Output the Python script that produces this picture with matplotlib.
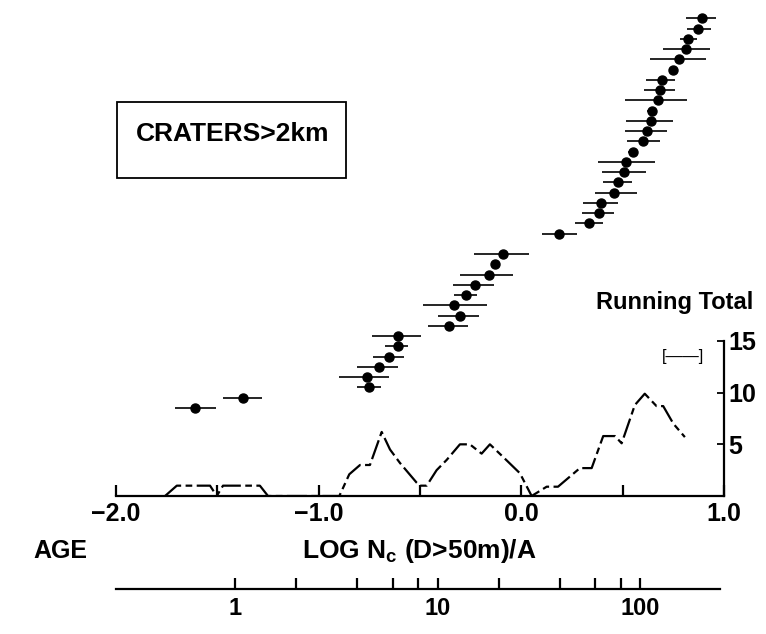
import numpy as np
import matplotlib
matplotlib.use("Agg")
import matplotlib.pyplot as plt
from matplotlib.patches import Rectangle

plt.rcParams['font.family'] = ['Liberation Sans', 'DejaVu Sans']

# ---- data: crater counts (rank order, bottom to top) ----
rank = [0, 1, 2, 3, 4, 5, 6, 7, 8, 9, 10, 11, 12, 13, 14, 15,
        17, 18, 19, 20, 21, 22, 23, 24, 25, 26, 27, 28, 29, 30,
        31, 32, 33, 34, 35, 36, 37, 38]
log_nc = [-1.609, -1.372, -0.750, -0.763, -0.703, -0.652, -0.610, -0.607,
          -0.357, -0.303, -0.330, -0.273, -0.230, -0.160, -0.130, -0.092,
          0.187, 0.335, 0.384, 0.394, 0.457, 0.475, 0.505, 0.516,
          0.549, 0.601, 0.621, 0.639, 0.643, 0.675, 0.685, 0.694,
          0.746, 0.779, 0.814, 0.822, 0.874, 0.892]
err_lo = [-1.709, -1.474, -0.810, -0.898, -0.810, -0.731, -0.673, -0.739,
          -0.459, -0.410, -0.486, -0.333, -0.336, -0.303, -0.140, -0.234,
          0.100, 0.264, 0.297, 0.305, 0.363, 0.404, 0.396, 0.379,
          0.527, 0.523, 0.511, 0.516, 0.620, 0.511, 0.605, 0.615,
          0.730, 0.634, 0.700, 0.782, 0.815, 0.812]
err_hi = [-1.507, -1.281, -0.694, -0.652, -0.607, -0.579, -0.558, -0.497,
          -0.262, -0.208, -0.170, -0.217, -0.135, -0.043, -0.120, 0.039,
          0.276, 0.404, 0.457, 0.478, 0.569, 0.544, 0.615, 0.659,
          0.569, 0.684, 0.720, 0.749, 0.660, 0.818, 0.758, 0.758,
          0.760, 0.909, 0.930, 0.865, 0.935, 0.959]

# ---- data: running total curve ----
rt_x = [-1.758, -1.700, -1.536, -1.503, -1.472, -1.290, -1.250,
        -0.898, -0.849, -0.796, -0.747, -0.689, -0.648, -0.599, -0.517,
        -0.500, -0.467, -0.418, -0.368, -0.303, -0.254, -0.196, -0.155,
        -0.091, -0.007, 0.051, 0.125, 0.181, 0.289, 0.347, 0.404,
        0.462, 0.495, 0.560, 0.609, 0.667, 0.700, 0.750, 0.807]
rt_y = [0, 1.0, 1.0, 0, 1.0, 1.0, 0,
        0, 2.1, 3.0, 3.0, 6.2, 4.5, 3.2, 1.3,
        1.0, 1.0, 2.5, 3.5, 5.0, 5.0, 4.1, 5.0,
        3.8, 2.2, 0, 0.9, 0.9, 2.7, 2.7, 5.8,
        5.8, 5.1, 8.8, 9.9, 8.7, 8.7, 7.0, 5.7]

main_ticks = [-2.0, -1.5, -1.0, -0.5, 0.0, 0.5, 1.0]
main_labels = ['\u22122.0', '', '\u22121.0', '', '0.0', '', '1.0']
rt_ticks = [5, 10, 15]
age_ticks = [1, 2, 4, 6, 8, 10, 20, 40, 60, 80, 100]
age_labels = ['1', '', '', '', '', '10', '', '', '', '', '100']

W, H = 766, 634
fig = plt.figure(figsize=(W / 100, H / 100), dpi=100)
FW = 'bold'

x0, x1 = 116, 724      # pixel x of -2.0 and 1.0
ybase = 496            # pixel y of main axis line
ax = fig.add_axes([x0 / W, (H - ybase) / H, (x1 - x0) / W, ybase / H])
ax.set_xlim(-2, 1)
ax.set_ylim(-8.6, 39.8)
for s in ['top', 'left', 'right']:
    ax.spines[s].set_visible(False)
ax.spines['bottom'].set_bounds(-2, 1)
ax.spines['bottom'].set_linewidth(1.6)
ax.set_yticks([])
ax.set_xticks(main_ticks)
ax.set_xticklabels(main_labels, fontsize=18, fontweight=FW)
ax.tick_params(axis='x', direction='in', length=8, width=1.6, pad=4)

ax.errorbar(log_nc, rank, xerr=[np.array(log_nc) - np.array(err_lo),
                                np.array(err_hi) - np.array(log_nc)],
            fmt='o', color='black', ms=6.5, elinewidth=1.2, capsize=0)

ax2 = ax.twinx()
ax2.set_ylim(0, 48.0)
for s in ['top', 'left', 'bottom']:
    ax2.spines[s].set_visible(False)
ax2.spines['right'].set_bounds(0, 15)
ax2.spines['right'].set_linewidth(1.6)
ax2.set_yticks(rt_ticks)
ax2.set_yticklabels([str(t) for t in rt_ticks], fontsize=18, fontweight=FW)
ax2.tick_params(axis='y', direction='in', length=5, width=1.3, pad=3)
ax2.plot(rt_x, rt_y, color='black', lw=1.6, dashes=(9, 2, 3, 2))
ax2.text((753 - x0) / (x1 - x0), 1 - 302 / ybase,
         'Running Total', transform=ax2.transAxes,
         ha='right', va='center', fontsize=17, fontweight=FW)
ax2.text((683 - x0) / (x1 - x0), 1 - 356 / ybase, '[\u2014\u2014]',
         transform=ax2.transAxes, ha='center', va='center', fontsize=12)

# label box
ax.add_patch(Rectangle((117 / W, 1 - 178 / H), 229 / W, 76 / H,
                       transform=fig.transFigure, fill=False,
                       ec='black', lw=1.3))
fig.text(233 / W, 1 - 134 / H, 'CRATERS>2km', ha='center', va='center',
         fontsize=19, fontweight=FW)

fig.text(60 / W, 1 - 551 / H, 'AGE', ha='center', va='center',
         fontsize=18, fontweight=FW)
fig.text(419 / W, 1 - 551 / H, 'LOG N$_\\mathregular{c}$ (D>50m)/A',
         ha='center', va='center', fontsize=19, fontweight=FW)

# age axis
yage = 589
ax3 = fig.add_axes([x0 / W, (H - yage) / H, (x1 - x0) / W, 0.001])
ax3.set_xscale('log')
off = 1.413
ax3.set_xlim(10 ** (-2 + off), 10 ** (1 + off))
for s in ['top', 'left', 'right']:
    ax3.spines[s].set_visible(False)
ax3.spines['bottom'].set_linewidth(1.6)
ax3.spines['bottom'].set_bounds(10 ** (-2 + off), 10 ** (0.98 + off))
ax3.set_yticks([])
ax3.xaxis.set_minor_locator(matplotlib.ticker.NullLocator())
ax3.set_xticks(age_ticks)
ax3.set_xticklabels(age_labels, fontsize=17, fontweight=FW)
ax3.tick_params(axis='x', direction='in', length=8, width=1.6, pad=6)

fig.savefig('out.png', dpi=100)
